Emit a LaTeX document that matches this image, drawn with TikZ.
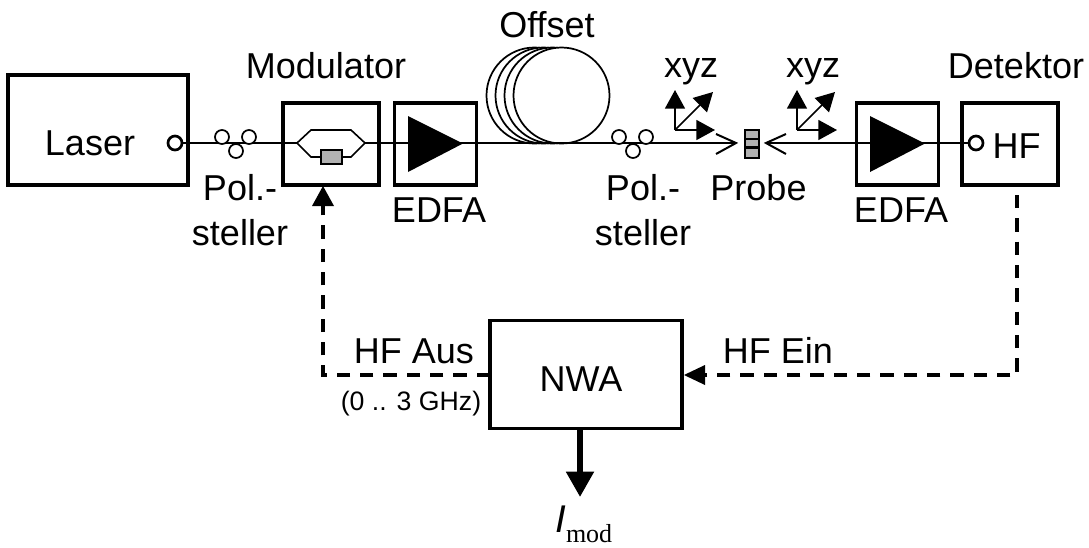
\documentclass[tikz,border=0pt]{standalone}
\usepackage{fontspec}
\setmainfont{Liberation Sans}
\usetikzlibrary{arrows.meta}
\tikzset{
  blockbox/.style={draw, rectangle, line width=2.4pt, inner sep=0pt, outer sep=0pt},
  fibre/.style={line width=1.5pt},
  feedback/.style={line width=3pt, dash pattern=on 10pt off 7.5pt},
  loopring/.style={draw, circle, fill=white, line width=1.3pt, minimum size=10.5pt, inner sep=0pt},
  portring/.style={draw, circle, fill=white, line width=2pt, minimum size=10.5pt, inner sep=0pt},
  gaintri/.style={fill=black},
  stagearrow/.style={-{Triangle[length=14pt, width=15pt]}, line width=1.2pt},
  label/.style={inner sep=0pt, anchor=base, font=\fontsize{27}{33.75}\selectfont},
}
\begin{document}
\begin{tikzpicture}[x=0.75pt, y=-0.75pt]
  \useasboundingbox (0,0) rectangle (1089,547);
  % coordinates are pixels of the reference
  \coordinate (modin) at (297,143);
  \coordinate (modout) at (365,143);
  \coordinate (gaina) at (420,143);
  \coordinate (gainb) at (885,143);
  \coordinate (tipleft) at (736,143);
  \coordinate (tipright) at (766,143);
  \node[blockbox, minimum width=135pt, minimum height=82.5pt] (laser) at (98,130) {};
  \node[blockbox, minimum width=72pt, minimum height=61.5pt] (modbox) at (331,144) {};
  \node[blockbox, minimum width=62pt, minimum height=61.5pt] (edfaa) at (435.5,144) {};
  \node[blockbox, minimum width=62pt, minimum height=61.5pt] (edfab) at (897.5,144) {};
  \node[blockbox, minimum width=72pt, minimum height=61.5pt] (hfbox) at (1010,144) {};
  \node[blockbox, minimum width=144pt, minimum height=81pt] (nwa) at (586,374.5) {};
  % fibre coil
  \foreach \cx in {534.5,543.5,552.5,561.5} {
    \draw[line width=1.3pt, fill=white] (\cx,95.5) circle[radius=36pt];
  }
  % fibres
  \node[portring] (portlaser) at (175,143) {};
  \node[portring] (porthf) at (976,143) {};
  \draw[fibre] (portlaser) -- (modin);
  \draw[fibre] (modout) -- (gaina);
  \draw[fibre] (gaina) -- ([xshift=-1pt]tipleft);
  \draw[fibre] ([xshift=1pt]tipright) -- (porthf);
  \draw[fibre] (716,134) -- (tipleft) -- (716,154);
  \draw[fibre] (786,134) -- (tipright) -- (786,154);
  % polarisation rings
  \foreach \ox/\nm in {222/a,619/b} {
    \node[loopring] (ring\nm1) at (\ox,137) {};
    \node[loopring] (ring\nm2) at (\ox+27,137) {};
    \node[loopring] (ring\nm3) at (\ox+14,151) {};
  }
  % modulator
  \draw[line width=1.2pt, fill=white] (modin) -- (311,130) -- (351,130) -- (modout) -- (351,157) -- (311,157) -- cycle;
  \draw[line width=1.2pt, fill=black!30] (321,150) rectangle (342,164);
  % amplifiers
  \fill[gaintri] (408,116) -- (463,143.5) -- (408,172) -- cycle;
  \fill[gaintri] (870,116) -- (925,143.5) -- (870,172) -- cycle;
  % probe
  \draw[line width=1pt, fill=black!30] (745,130) rectangle (759,158);
  \draw[line width=1.6pt] (745,139) -- (759,139);
  \draw[line width=1.6pt] (745,147.5) -- (759,147.5);
  % stages
  \foreach \ox/\nm in {675/a,797/b} {
    \coordinate (org\nm) at (\ox,130);
    \draw[stagearrow] (org\nm) -- (\ox,90);
    \draw[stagearrow] (org\nm) -- (\ox+40,130);
    \draw[stagearrow] (org\nm) -- (\ox+38,92);
  }
  % connections
  \coordinate (hfdown) at (1017,375);
  \coordinate (moddown) at (323,375);
  \draw[feedback, dash phase=10pt] (hfbox.south -| hfdown) -- (hfdown) -- (hfdown -| nwa.east);
  \draw[feedback] (nwa.west |- moddown) -- (moddown) -- (323,206);
  \fill (nwa.east |- hfdown) ++(2,0) -- ++(21,-10) -- ++(0,20) -- cycle;
  \fill (modbox.south -| moddown) ++(0,1) -- ++(-11,20) -- ++(22,0) -- cycle;
  \coordinate (imodend) at (580,497);
  \draw[-{Triangle[length=19pt, width=20pt]}, line width=4.5pt] (nwa.south -| imodend) -- (imodend);
  % labels
  \node[label] (laserlbl) at (90,155) {Laser};
  \node[label] (modlbl) at (326,78) {Modulator};
  \node[label] (offsetlbl) at (547,37) {Offset};
  \node[label, anchor=center, align=center] (pola) at (240,210) {Pol.-\\steller};
  \node[label] (edfaalbl) at (439,222) {EDFA};
  \node[label, anchor=center, align=center] (polb) at (643,210) {Pol.-\\steller};
  \node[label] (probelbl) at (758.5,200) {Probe};
  \node[label] (edfablbl) at (901,222) {EDFA};
  \node[label] (xyza) at (691,77) {xyz};
  \node[label] (xyzb) at (813,77) {xyz};
  \node[label] (detlbl) at (1016,78) {Detektor};
  \node[label] (hflbl) at (1016.5,158) {HF};
  \node[label] (nwalbl) at (581,391) {NWA};
  \node[label] (auslbl) at (414,363) {HF Aus};
  \node[label] (einlbl) at (778,363) {HF Ein};
  \node[inner sep=0pt, anchor=base, font=\fontsize{20}{24}\selectfont] (rangelbl) at (411,410) {(0 .. 3 GHz)};
  \node[inner sep=0pt, anchor=base west, font=\fontsize{29}{34}\selectfont] (imodlbl) at (555,532) {\textit{I}{\fontspec{Liberation Serif}\fontsize{19.5}{23}\selectfont\raisebox{-7.5pt}{mod}}};
\end{tikzpicture}
\end{document}
